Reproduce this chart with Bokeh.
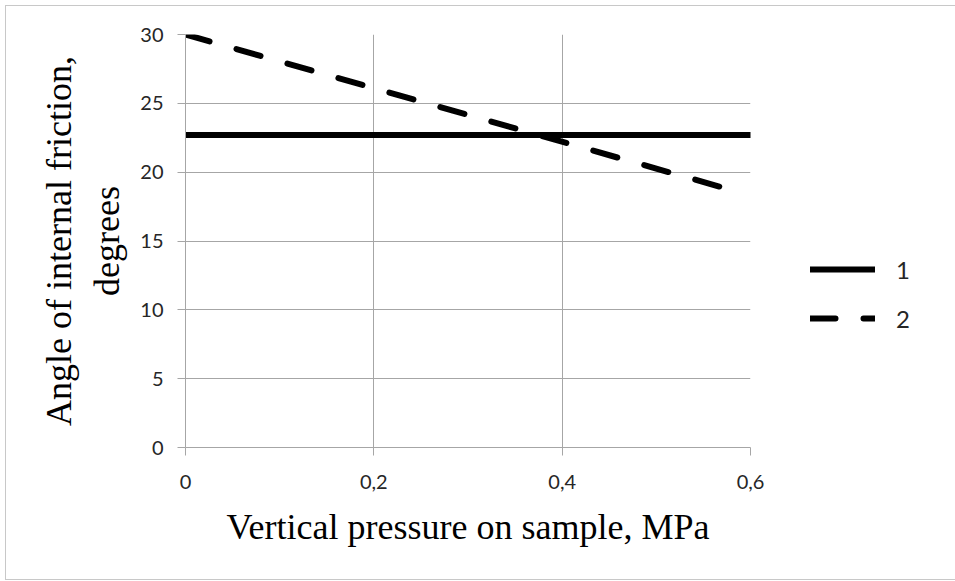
from bokeh.plotting import figure
from bokeh.models import Range1d, FixedTicker, Legend, LegendItem
from bokeh.embed import file_html
from bokeh.resources import INLINE

# data
line1_x = [0.0, 0.6]
line1_y = [22.7, 22.7]
line2_x = [0.0, 0.58]
line2_y = [30.0, 18.7]
series_names = ["1", "2"]
x_ticks = [0, 0.2, 0.4, 0.6]
x_tick_labels = ["0", "0,2", "0,4", "0,6"]
y_ticks = [0, 5, 10, 15, 20, 25, 30]

GRID = "#a6a6a6"
TXT = "#262626"

p = figure(frame_width=565, frame_height=413, output_backend="svg", toolbar_location=None,
           x_range=Range1d(0, 0.6), y_range=Range1d(0, 30),
           min_border_left=179, min_border_right=202, min_border_top=28,
           min_border_bottom=132)
p.styles = {"border": "1px solid #c8c8c8", "margin-left": "5px", "margin-top": "5px"}
p.outline_line_color = None
p.background_fill_color = "white"
p.border_fill_color = "white"

# grid
p.xgrid.ticker = FixedTicker(ticks=x_ticks)
p.ygrid.ticker = FixedTicker(ticks=y_ticks)
for g in (p.xgrid, p.ygrid):
    g.grid_line_color = GRID
    g.grid_line_width = 1

# axes
p.xaxis.ticker = FixedTicker(ticks=x_ticks)
p.xaxis.major_label_overrides = {t: l for t, l in zip(x_ticks, x_tick_labels)}
p.yaxis.ticker = FixedTicker(ticks=y_ticks)
for ax in (p.xaxis, p.yaxis):
    ax.axis_line_color = GRID
    ax.axis_line_width = 1
    ax.major_tick_line_color = GRID
    ax.major_tick_out = 8
    ax.major_tick_in = 0
    ax.minor_tick_line_color = None
    ax.major_label_text_font = "Lato"
    ax.major_label_text_font_size = "20px"
    ax.major_label_text_color = TXT
    ax.axis_label_text_font = "Liberation Serif"
    ax.axis_label_text_font_size = "36px"
    ax.axis_label_text_font_style = "normal"
    ax.axis_label_text_color = "black"

p.xaxis.major_label_standoff = 19
p.yaxis.major_label_standoff = 14
p.xaxis.axis_label = "Vertical pressure on sample, MPa"
p.yaxis.axis_label = "Angle of internal friction,\ndegrees"
p.xaxis.axis_label_standoff = 15
p.yaxis.axis_label_standoff = 10

r1 = p.line(line1_x, line1_y, line_color="black", line_width=6, line_cap="round")
r2 = p.line(line2_x, line2_y, line_color="black", line_width=6, line_cap="round",
            line_dash="25 28")

legend = Legend(items=[LegendItem(label=series_names[0], renderers=[r1]),
                       LegendItem(label=series_names[1], renderers=[r2])],
                location=(60, 114), orientation="vertical",
                glyph_width=65, glyph_height=30, label_height=30,
                label_standoff=21, spacing=19, padding=0, margin=0,
                border_line_color=None, background_fill_alpha=0,
                label_text_font="Lato", label_text_font_size="24px",
                label_text_color=TXT)
p.add_layout(legend, "right")

open("out.html", "w").write(file_html(p, INLINE))
